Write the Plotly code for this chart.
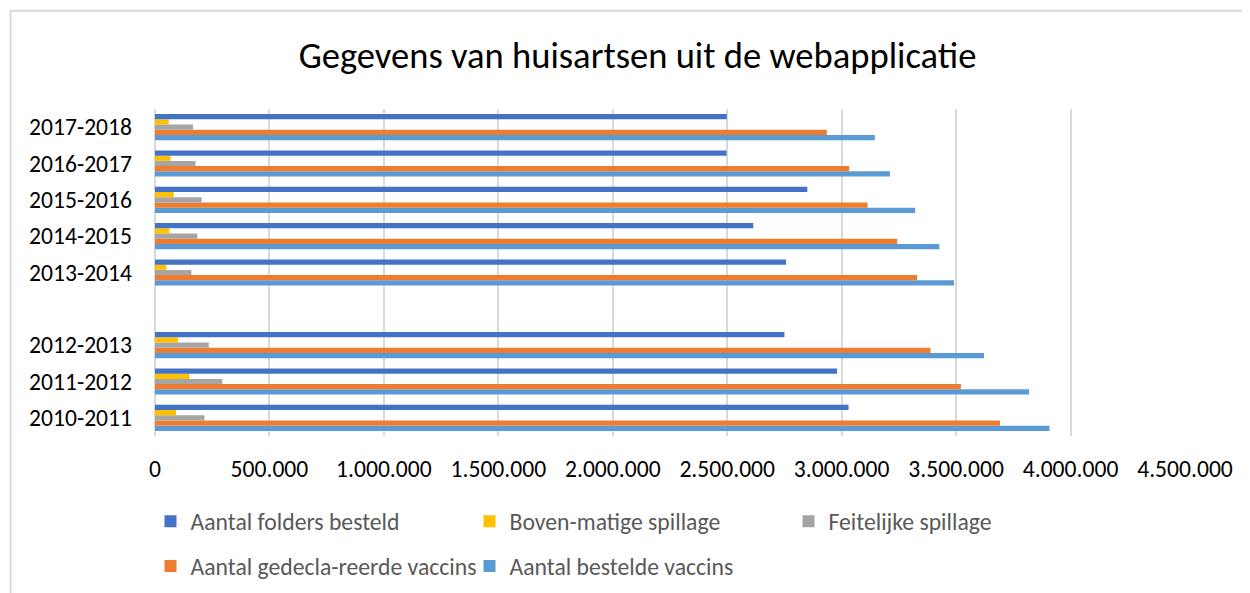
import plotly.graph_objects as go

seasons = ["2010-2011", "2011-2012", "2012-2013", " ", "2013-2014",
           "2014-2015", "2015-2016", "2016-2017", "2017-2018"]
data_seasons = ["2010-2011", "2011-2012", "2012-2013", "2013-2014",
                "2014-2015", "2015-2016", "2016-2017", "2017-2018"]

folders_besteld = [3030000, 2980000, 2750000, 2757000, 2614000, 2850000, 2497000, 2498000]
bovenmatige_spillage = [92000, 151000, 101000, 50000, 63000, 82000, 68000, 60000]
feitelijke_spillage = [216000, 294000, 235000, 159000, 185000, 204000, 177000, 166000]
gedeclareerde_vaccins = [3692000, 3521000, 3388000, 3330000, 3243000, 3113000, 3033000, 2935000]
bestelde_vaccins = [3908000, 3819000, 3622000, 3491000, 3427000, 3321000, 3211000, 3145000]

FONT = "Carlito, Calibri, Lato, 'Open Sans', sans-serif"

# page is offset by the 8px default body margin -> work in figure coords
OFF = 8
W, H = 1242, 585
L = 154.5 - OFF
PR = 1185 - OFF
T = 108.5 - OFF
PB = 436.5 - OFF
R = W - PR
B = H - PB
pw = PR - L
ph = PB - T

def fx(page_x):
    return (page_x - OFF - L) / pw

def fy(page_y):
    return (PB - (page_y - OFF)) / ph

# add order: bottom bar of each group first
series = [
    ("Aantal bestelde vaccins", bestelde_vaccins, "#5B9BD5", 5, "legend2"),
    ("Aantal gedecla-reerde vaccins", gedeclareerde_vaccins, "#ED7D31", 4, "legend2"),
    ("Feitelijke spillage", feitelijke_spillage, "#A5A5A5", 3, "legend"),
    ("Boven-matige spillage", bovenmatige_spillage, "#FFC000", 2, "legend"),
    ("Aantal folders besteld", folders_besteld, "#4472C4", 1, "legend"),
]

fig = go.Figure()
for name, vals, color, rank, leg in series:
    fig.add_trace(go.Bar(
        x=vals, y=data_seasons, orientation="h", name=name,
        marker=dict(color=color, line=dict(width=0)),
        legendrank=rank, legend=leg,
    ))

legend_common = dict(orientation="h", xanchor="left", yanchor="middle",
                     entrywidth=274, entrywidthmode="pixels",
                     traceorder="normal", itemwidth=30,
                     bgcolor="rgba(0,0,0,0)",
                     font=dict(size=23.7, color="#595959", family=FONT))

fig.update_layout(
    width=W, height=H,
    margin=dict(l=L, r=R, t=T, b=B, autoexpand=False),
    paper_bgcolor="white", plot_bgcolor="white",
    barmode="group", bargap=0.28, bargroupgap=0,
    separators=",.",
    font=dict(family=FONT, color="#000000"),
    title=dict(text="Gegevens van huisartsen uit de webapplicatie",
               x=(637.5 - OFF) / W, xanchor="center",
               y=1 - (55 - OFF) / H, yanchor="middle",
               font=dict(size=36.6, color="#000000", family=FONT)),
    xaxis=dict(range=[0, 4500000], dtick=500000, tick0=0, tickformat=",d",
               showgrid=True, gridcolor="#D9D9D9", gridwidth=2,
               zeroline=True, zerolinecolor="#D9D9D9", zerolinewidth=2,
               showline=False, ticks="",
               ticklabelstandoff=16,
               tickfont=dict(size=23.6, color="#000000", family=FONT)),
    yaxis=dict(type="category", categoryorder="array", categoryarray=seasons,
               range=[-0.5, 8.5], showgrid=False, zeroline=False,
               showline=False, ticks="", ticklabelstandoff=22,
               tickfont=dict(size=23.6, color="#000000", family=FONT)),
    legend=dict(x=fx(150), y=fy(522), **legend_common),
    legend2=dict(x=fx(150), y=fy(567), **legend_common),
    shapes=[dict(type="rect", xref="paper", yref="paper",
                 x0=fx(10), x1=fx(1270),
                 y0=fy(620), y1=fy(10),
                 line=dict(color="#D9D9D9", width=2), fillcolor="rgba(0,0,0,0)",
                 layer="below")],
)

fig.write_html("out.html")
